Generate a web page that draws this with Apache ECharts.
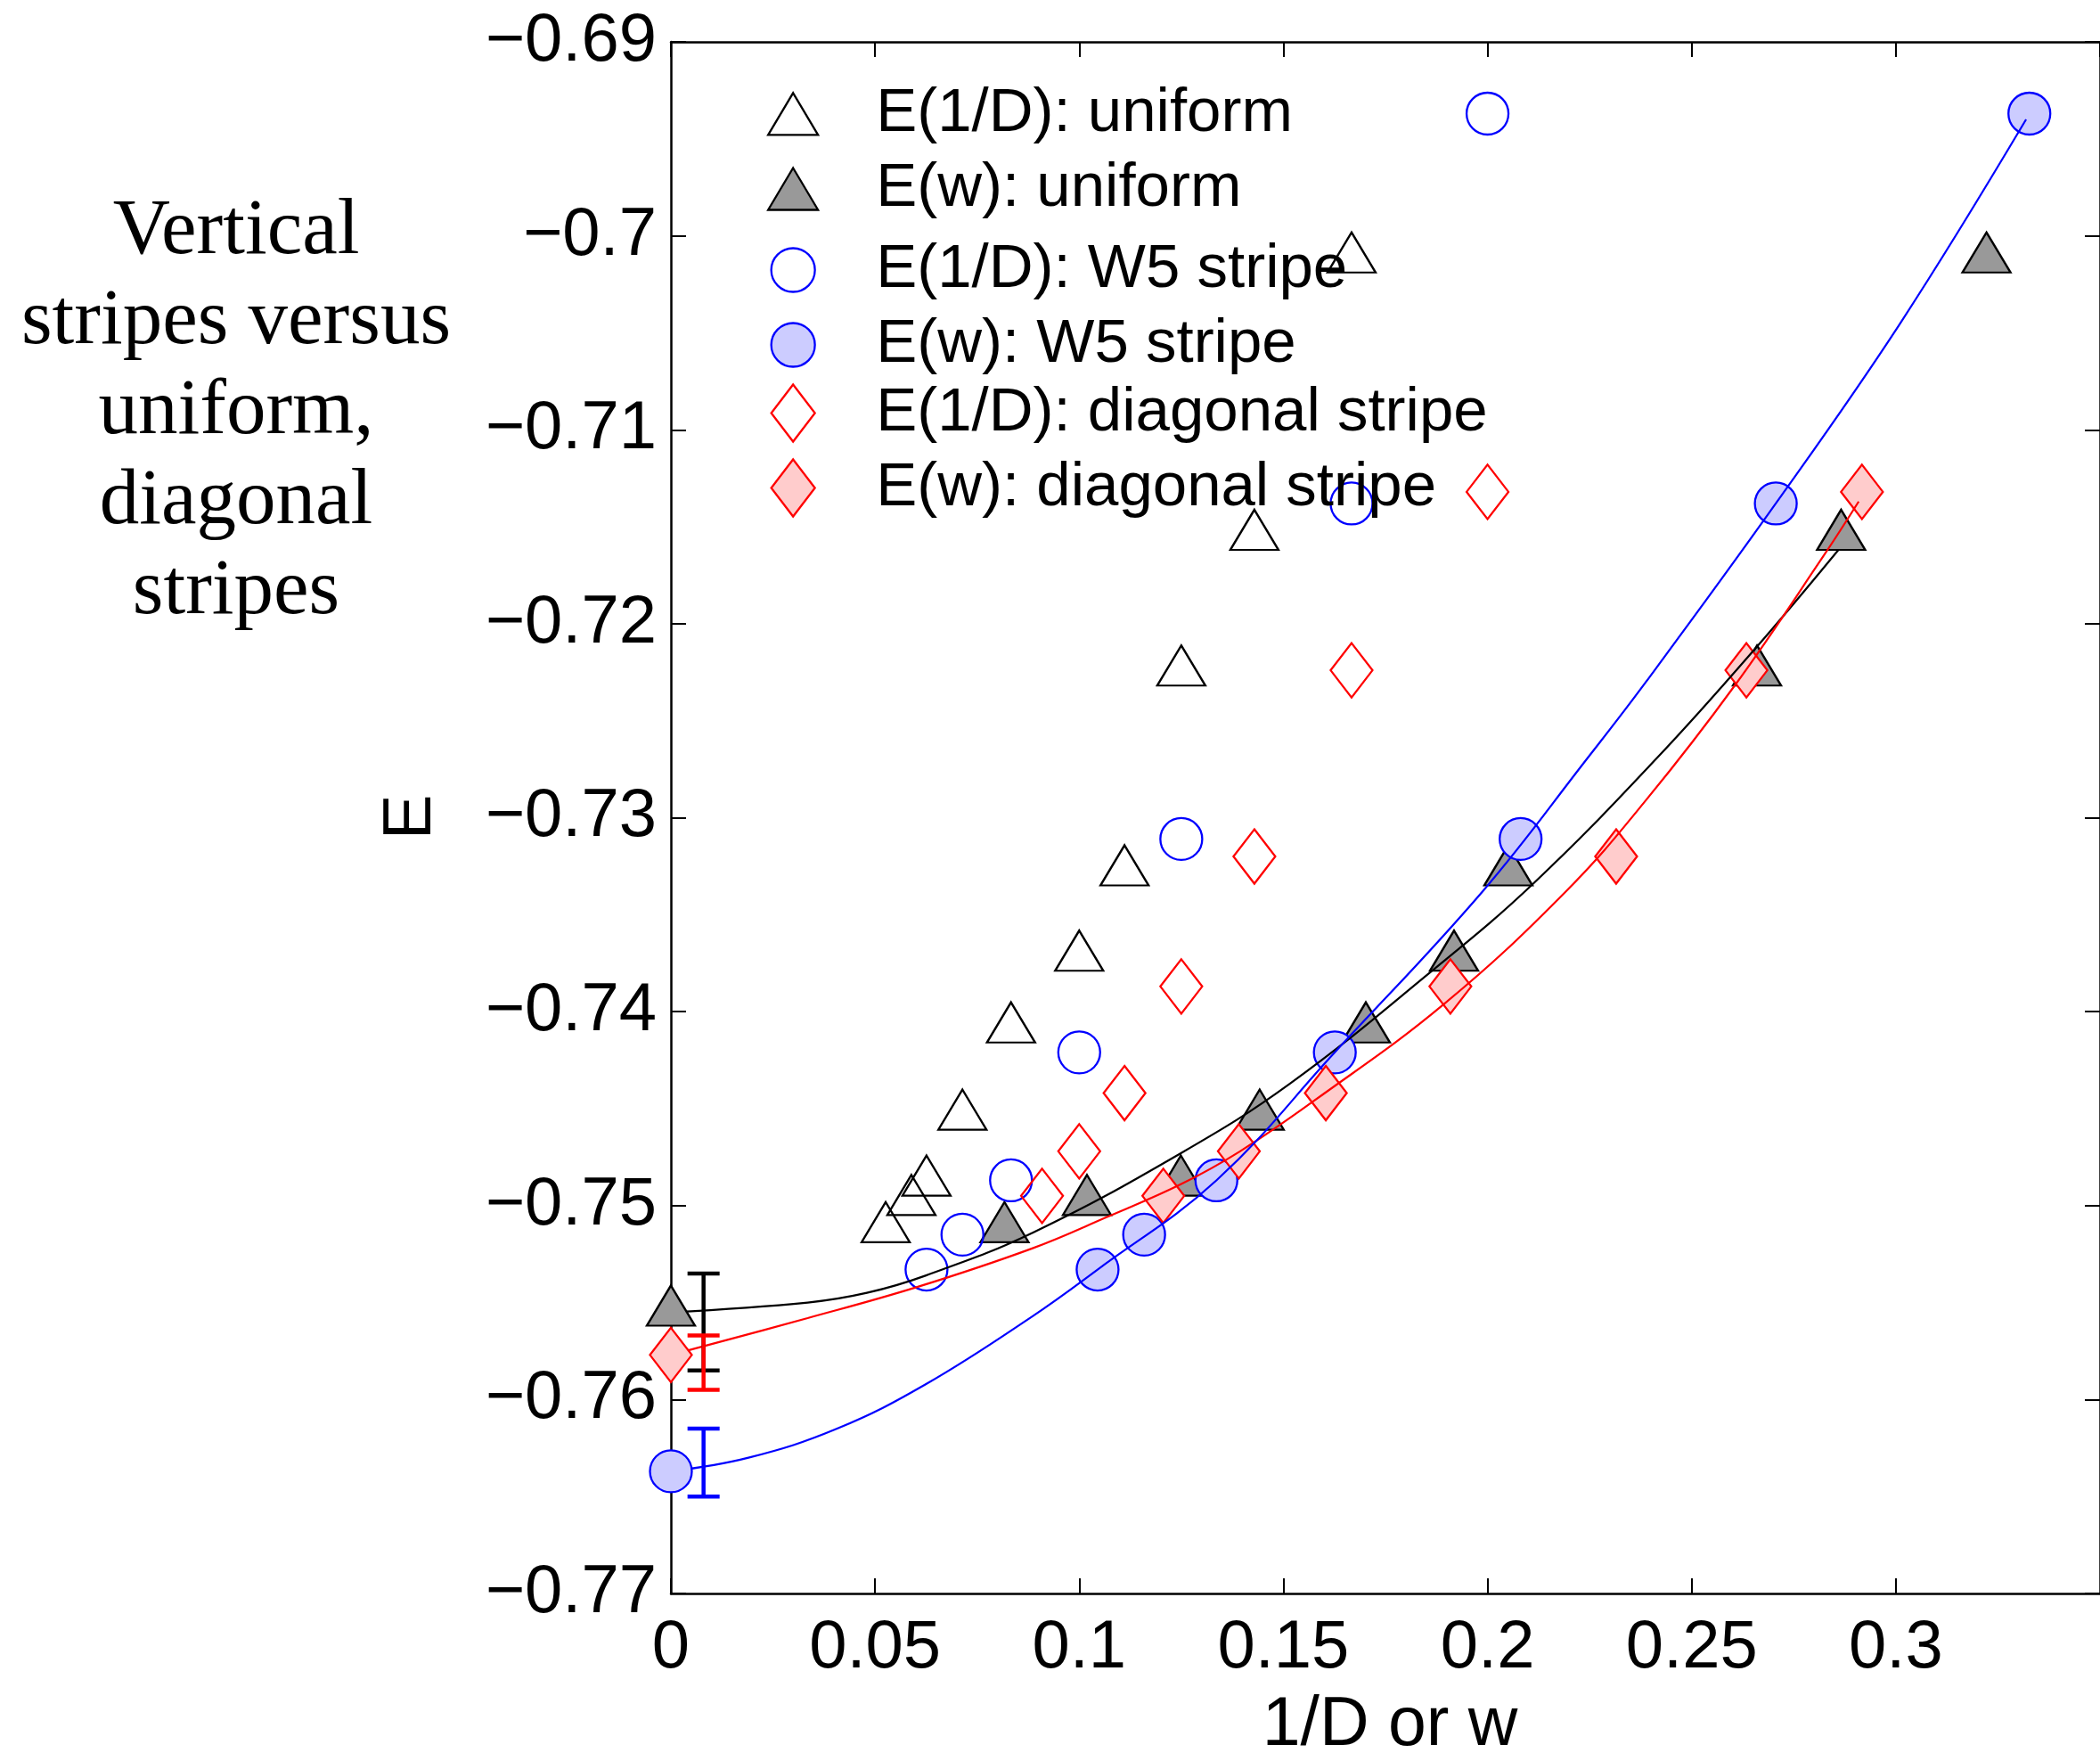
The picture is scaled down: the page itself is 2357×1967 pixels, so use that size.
<!DOCTYPE html>
<html><head><meta charset="utf-8">
<script src="https://cdn.jsdelivr.net/npm/echarts@6/dist/echarts.min.js"></script>
<style>html,body{margin:0;padding:0;background:#fff}#c{width:2357px;height:1967px}</style>
</head><body><div id="c"></div>
<script>
// ---- tick labels ----
const xTickLabels = ['0','0.05','0.1','0.15','0.2','0.25','0.3'];
const yTickLabels = ['\u22120.77','\u22120.76','\u22120.75','\u22120.74','\u22120.73','\u22120.72','\u22120.71','\u22120.7','\u22120.69'];

// ---- series names ----
const nameUD = 'E(1/D): uniform';
const nameUW = 'E(w): uniform';
const nameSD = 'E(1/D): W5 stripe';
const nameSW = 'E(w): W5 stripe';
const nameDD = 'E(1/D): diagonal stripe';
const nameDW = 'E(w): diagonal stripe';

// ---- uniform (triangles) ----
const uniformE    = [-0.7012,-0.7155,-0.7225,-0.7328,-0.7372,-0.7409,-0.7454,-0.7488,-0.7498,-0.7512];
const uniformInvD = [0.1667,0.1429,0.1250,0.1111,0.1000,0.0833,0.0714,0.0626,0.0589,0.0526];
const uniformW    = [0.3222,0.2866,0.2660,0.2051,0.1918,0.1702,0.1442,0.1249,0.1019,0.0817];
// ---- W5 stripe (circles) ----
const w5E    = [-0.6937,-0.7138,-0.7311,-0.7421,-0.7487,-0.7515,-0.7533];
const w5InvD = [0.2000,0.1667,0.1250,0.1000,0.0833,0.0714,0.0626];
const w5W    = [0.3327,0.2706,0.2081,0.1626,0.1336,0.1159,0.1045];
// ---- diagonal stripe (diamonds) ----
const diagE    = [-0.7132,-0.7224,-0.7320,-0.7387,-0.7442,-0.7472,-0.7495];
const diagInvD = [0.2000,0.1667,0.1429,0.1250,0.1111,0.1000,0.0909];
const diagW    = [0.2917,0.2634,0.2315,0.1909,0.1604,0.1391,0.1206];

// ---- extrapolated values at w = 0 ----
const extrapUniform = -0.7555;
const extrapW5 = -0.7637;
const extrapDiag = -0.7577;

// ---- error bars (x, low, high) ----
const errX = 0.008;
const errUniform = [-0.7585, -0.7535];
const errDiag    = [-0.7595, -0.7567];
const errW5      = [-0.7650, -0.7615];

// ---- fit curves ----
const fitUniformX = [0,0.0335,0.0480,0.0625,0.0886,0.1249,0.1517,0.1858,0.2112,0.2416,0.2659,0.2859];
const fitUniformY = [-0.7555,-0.7550,-0.7545,-0.7536,-0.7514,-0.7473,-0.7437,-0.7380,-0.7334,-0.7269,-0.7212,-0.7162];
const fitDiagX = [0,0.0335,0.0603,0.0886,0.1067,0.1249,0.1394,0.1575,0.1894,0.2192,0.2388,0.2605,0.2823,0.2909];
const fitDiagY = [-0.7577,-0.7558,-0.7542,-0.7522,-0.7506,-0.7489,-0.7472,-0.7446,-0.7396,-0.7338,-0.7291,-0.7232,-0.7165,-0.7137];
const fitW5X = [0,0.0190,0.0407,0.0625,0.0886,0.1045,0.1336,0.1626,0.1988,0.2246,0.2388,0.2706,0.3011,0.3319];
const fitW5Y = [-0.7637,-0.7630,-0.7615,-0.7592,-0.7557,-0.7533,-0.7487,-0.7421,-0.7338,-0.7269,-0.7230,-0.7138,-0.7045,-0.6940];

const zip = (xs, ys) => xs.map((x, i) => [x, ys[i]]);

const SANS = '"Liberation Sans", Arial, Helvetica, sans-serif';
const SERIF = '"Liberation Serif", "Times New Roman", serif';
const TRI = [54, 45];
const TRI_OFF = [0, -7.5];
const CIR = 47;
const DIA = [47, 61];
const BLUE = '#0000ff', RED = '#ff0000';
const GRAY = '#999999', LBLUE = '#ccccff', LRED = '#ffcccc', NONE = 'rgba(0,0,0,0)';
const MW = 2.3;

const chart = echarts.init(document.getElementById('c'), null, {renderer: 'canvas'});

function scatter(name, data, symbol, size, fill, stroke, z, offset) {
  return {
    name, type: 'scatter', data, symbol, symbolSize: size,
    symbolOffset: offset || [0, 0], clip: false, z,
    itemStyle: {color: fill, borderColor: stroke, borderWidth: MW, opacity: 1},
    emphasis: {disabled: true}, silent: true
  };
}
function fit(data, color) {
  return {
    type: 'line', data, smooth: 0.4, showSymbol: false, symbol: 'none',
    lineStyle: {color, width: 2.2}, z: 5, silent: true, animation: false
  };
}
function errBar(lohi, color) {
  return {
    type: 'custom', z: 6, silent: true, clip: false,
    data: [[errX, lohi[0], lohi[1]]],
    renderItem(params, api) {
      const a = api.coord([api.value(0), api.value(1)]);
      const b = api.coord([api.value(0), api.value(2)]);
      const hw = 18, st = {stroke: color, lineWidth: 4.5};
      return {type: 'group', children: [
        {type: 'line', shape: {x1: a[0], y1: a[1], x2: b[0], y2: b[1]}, style: st},
        {type: 'line', shape: {x1: a[0]-hw, y1: a[1], x2: a[0]+hw, y2: a[1]}, style: st},
        {type: 'line', shape: {x1: b[0]-hw, y1: b[1], x2: b[0]+hw, y2: b[1]}, style: st}
      ]};
    }
  };
}
function legendRow(name, top, w, h, fill, stroke, padTop) {
  return {
    data: [name], selectedMode: false, orient: 'vertical', padding: 0, itemGap: 0,
    left: 889 - w / 2, top, itemWidth: w, itemHeight: h,
    itemStyle: {color: fill, borderColor: stroke, borderWidth: MW},
    textStyle: {fontSize: 69, fontFamily: SANS, color: '#000',
      padding: [padTop, 0, 0, 96 - w / 2 - 5 - 3]}
  };
}

const axisCommon = {
  type: 'value', splitLine: {show: false},
  axisLine: {show: true, onZero: false, lineStyle: {color: '#000', width: 2.5}},
  axisTick: {show: true, inside: true, length: 17, lineStyle: {color: '#000', width: 2}}
};

const rowY = [124.8, 209, 293, 377, 461, 545];

const option = {
  animation: false,
  backgroundColor: '#ffffff',
  grid: {left: 753, top: 47, width: 1609, height: 1741, containLabel: false, show: false},
  xAxis: [
    Object.assign({}, axisCommon, {min: 0, max: 0.35, interval: 0.05, position: 'bottom',
      axisLabel: {show: true, fontSize: 76, fontFamily: SANS, color: '#000', margin: 24,
        showMaxLabel: false,
        formatter: (v, i) => xTickLabels[i] !== undefined ? xTickLabels[i] : ''}}),
    Object.assign({}, axisCommon, {min: 0, max: 0.35, interval: 0.05, position: 'top',
      axisLabel: {show: false}})
  ],
  yAxis: [
    Object.assign({}, axisCommon, {min: -0.77, max: -0.69, interval: 0.01, position: 'left',
      axisLabel: {show: true, fontSize: 76, fontFamily: SANS, color: '#000', margin: 16,
        formatter: (v, i) => yTickLabels[i] !== undefined ? yTickLabels[i] : ''}}),
    Object.assign({}, axisCommon, {min: -0.77, max: -0.69, interval: 0.01, position: 'right',
      axisLabel: {show: false}})
  ],
  legend: [
    legendRow(nameUD, rowY[0] - 7.5 - 24, 56, 47, NONE, '#000', 16),
    legendRow(nameUW, rowY[1] - 7.5 - 24, 56, 47, GRAY, '#000', 16),
    legendRow(nameSD, rowY[2] - 24.5, 49, 49, NONE, BLUE, 0),
    legendRow(nameSW, rowY[3] - 24.5, 49, 49, LBLUE, BLUE, 0),
    legendRow(nameDD, rowY[4] - 32, 49, 64, NONE, RED, 0),
    legendRow(nameDW, rowY[5] - 32, 49, 64, LRED, RED, 0)
  ],
  graphic: [
    {type: 'text', x: 265, y: 463, silent: true,
      style: {text: 'Vertical\nstripes versus\nuniform,\ndiagonal\nstripes',
        fontSize: 89, fontFamily: SERIF, fill: '#000', lineHeight: 101,
        align: 'center', verticalAlign: 'middle', textAlign: 'center', textVerticalAlign: 'middle'}},
    {type: 'text', x: 462, y: 917, rotation: Math.PI / 2, silent: true,
      style: {text: 'E', fontSize: 76, fontFamily: SANS, fill: '#000',
        align: 'center', verticalAlign: 'middle', textAlign: 'center', textVerticalAlign: 'middle'}},
    {type: 'text', x: 1560, y: 1937, silent: true,
      style: {text: '1/D or w', fontSize: 77, fontFamily: SANS, fill: '#000',
        align: 'center', verticalAlign: 'middle', textAlign: 'center', textVerticalAlign: 'middle'}}
  ],
  series: [
    scatter(nameUD, zip(uniformInvD, uniformE), 'triangle', TRI, NONE, '#000', 2, TRI_OFF),
    scatter(nameUW, zip(uniformW, uniformE), 'triangle', TRI, GRAY, '#000', 2, TRI_OFF),
    scatter(nameSD, zip(w5InvD, w5E), 'circle', CIR, NONE, BLUE, 3),
    scatter(nameSW, zip(w5W, w5E), 'circle', CIR, LBLUE, BLUE, 3),
    scatter(nameDD, zip(diagInvD, diagE), 'diamond', DIA, NONE, RED, 4),
    scatter(nameDW, zip(diagW, diagE), 'diamond', DIA, LRED, RED, 4),
    fit(zip(fitUniformX, fitUniformY), '#000'),
    fit(zip(fitDiagX, fitDiagY), RED),
    fit(zip(fitW5X, fitW5Y), BLUE),
    errBar(errUniform, '#000'),
    errBar(errDiag, RED),
    errBar(errW5, BLUE),
    scatter('u0', [[0, extrapUniform]], 'triangle', TRI, GRAY, '#000', 7, TRI_OFF),
    scatter('d0', [[0, extrapDiag]], 'diamond', DIA, LRED, RED, 7),
    scatter('s0', [[0, extrapW5]], 'circle', CIR, LBLUE, BLUE, 7)
  ]
};
chart.setOption(option);
</script></body></html>
